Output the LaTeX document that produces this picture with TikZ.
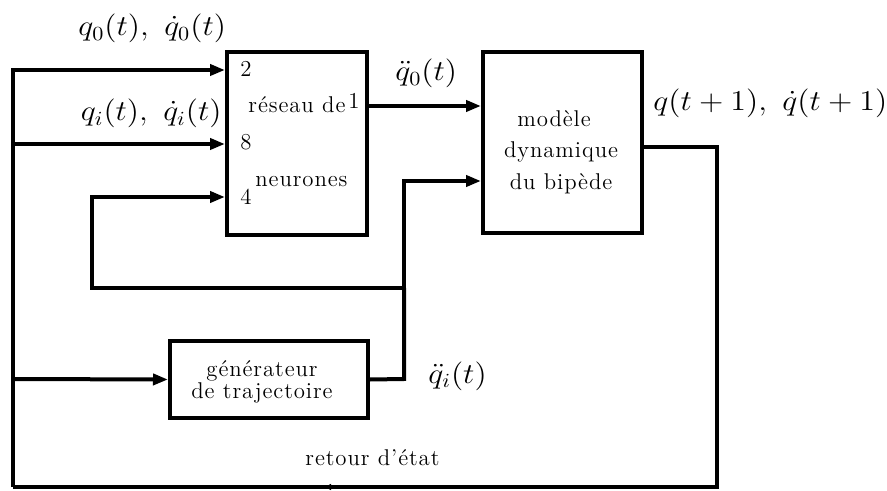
\documentclass[tikz,border=0pt]{standalone}
\usepackage{graphicx}
\usepackage{fontspec}
\setmainfont{Latin Modern Roman}
\newfontfamily\spaced[LetterSpace=4,Ligatures=TeX]{Latin Modern Roman}
\usetikzlibrary{arrows.meta}
\begin{document}
\begin{tikzpicture}[x=0.5pt,y=-0.5pt,
  wire/.style={line width=2pt},
  arr/.style={wire,-{Triangle[length=7.5pt,width=5.5pt]}},
  blk/.style={draw,line width=2pt,inner sep=0pt},
  txt/.style={font=\spaced\fontsize{11.4}{13}\selectfont,inner sep=0pt},
  mlab/.style={font=\fontsize{14}{16}\selectfont,inner sep=0pt}]
\useasboundingbox (0,0) rectangle (887,491);
% blocks
\node[blk,minimum width=70pt,minimum height=91.5pt] (nn) at (297,143.5) {};
\node[blk,minimum width=79.5pt,minimum height=90.5pt] (dyn) at (562.5,142.5) {};
\node[blk,minimum width=99pt,minimum height=38.5pt] (gen) at (269,379.5) {};
% texts inside nn
\node[txt,anchor=base west] (p2) at (240,77) {2};
\node[txt,anchor=base west] (p8) at (240,150) {8};
\node[txt,anchor=base west] (p4) at (240,205) {4};
\node[txt,anchor=base west] (p1) at (348,109) {1};
\node[txt,anchor=base west] (t1) at (248,113) {réseau de};
\node[txt,anchor=base west] (t2) at (255,187) {neurones};
% texts inside dyn
\node[txt,anchor=base] (d1) at (554,127) {modèle};
\node[txt,anchor=base] (d2) at (561,158) {dynamique};
\node[txt,anchor=base] (d3) at (561,190) {du bipède};
% texts inside gen
\node[txt,anchor=base] (g1) at (262,376) {générateur};
\node[txt,anchor=base] (g2) at (262,398) {de trajectoire};
% labels
\node[mlab,anchor=base west] (l1) at (78,36) {\scalebox{1.11}[1]{$q_0(t),\ \dot q_0(t)$}};
\node[mlab,anchor=base east] (l2) at (222,121) {\scalebox{1.11}[1]{$q_i(t),\ \dot q_i(t)$}};
\node[mlab,anchor=base west] (l3) at (395,81) {\scalebox{1.11}[1]{$\ddot q_0(t)$}};
\node[mlab,anchor=base west] (l4) at (653,111) {\scalebox{1.11}[1]{$q(t+1),\ \dot q(t+1)$}};
\node[mlab,anchor=base west] (l5) at (428,383) {\scalebox{1.11}[1]{$\ddot q_i(t)$}};
\node[txt,anchor=base west] (l6) at (305,465) {retour d’état};
% coordinates
\coordinate (tl) at (13,70);
\coordinate (bl) at (13,487);
\coordinate (br) at (717,487);
\coordinate (tr) at (717,147);
\coordinate (mid) at (325,487);
\coordinate (fi) at (13,144);
\coordinate (fg) at (13,379);
\coordinate (lb) at (92,197);
\coordinate (lc) at (92,288);
\coordinate (j) at (404,288);
\coordinate (jt) at (404,181);
\coordinate (jg) at (404,379);
% connectors
\draw[arr] (bl) -- (tl) -- (tl -| nn.west);
\draw[arr] (fi) -- (fi -| nn.west);
\draw[arr] (fg) -- (gen.west);
\draw[arr] (nn.east |- 0,106) -- (dyn.west |- 0,106);
\draw[wire] (dyn.east |- tr) -- (tr) -- (br) -- (mid);
\draw[wire,-{Triangle[length=3pt,width=3pt]}] (br) -- (mid);
\draw[wire] (mid) -- (bl);
\draw[wire] (gen.east) -- (jg) -- (j);
\draw[arr] (jg) -- (jt) -- (jt -| dyn.west);
\draw[arr] (j) -- (lc) -- (lb) -- (lb -| nn.west);
\end{tikzpicture}
\end{document}
